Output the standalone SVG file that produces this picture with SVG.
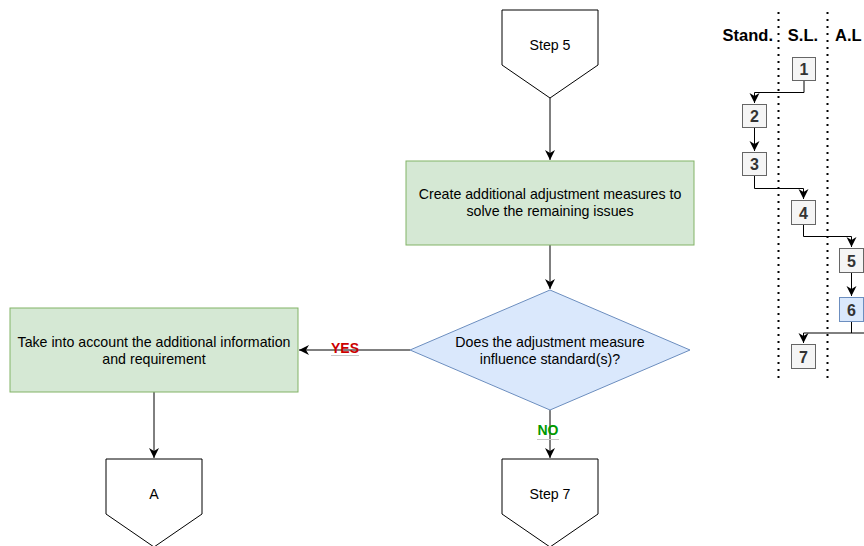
<svg xmlns="http://www.w3.org/2000/svg" width="864" height="546" viewBox="0 0 864 546">
  <style>
    text { font-family: "Liberation Sans", Arial, sans-serif; }
    .lbl { font-size: 14.2px; fill: #000; text-anchor: middle; }
    .green { fill: #d5e8d4; stroke: #82b366; stroke-width: 1; }
    .blue { fill: #dae8fc; stroke: #6c8ebf; stroke-width: 1; }
    .gray { fill: #f5f5f5; stroke: #666666; stroke-width: 1; }
    .step { fill: #ffffff; stroke: #000000; stroke-width: 1; }
    .edge { fill: none; stroke: #000000; stroke-width: 1; }
    .num { font-size: 16px; font-weight: bold; fill: #333333; text-anchor: middle; }
    .head { font-size: 16.5px; font-weight: bold; fill: #000; }
    .lane { stroke: #000; stroke-width: 2; stroke-dasharray: 2 5; fill: none; }
  </style>
  <defs>
    <marker id="arrow" markerUnits="userSpaceOnUse" markerWidth="12" markerHeight="12" refX="10" refY="5" orient="auto">
      <path d="M0,0 L10,5 L0,10 L3,5 z" fill="#000"/>
    </marker>
  </defs>

  <rect width="864" height="546" fill="#ffffff"/>

  <!-- swimlane separators and headers -->
  <g id="lanes">
    <line class="lane" x1="778.5" y1="12" x2="778.5" y2="382"/>
    <line class="lane" x1="827.5" y1="12" x2="827.5" y2="382"/>
    <text class="head" x="773" y="41" text-anchor="end">Stand.</text>
    <text class="head" x="803" y="41" text-anchor="middle">S.L.</text>
    <text class="head" x="835" y="41">A.L</text>
  </g>

  <!-- connectors -->
  <g id="connectors">
    <path class="edge" d="M550,98 V160" marker-end="url(#arrow)"/>
    <path class="edge" d="M550,245 V289" marker-end="url(#arrow)"/>
    <path class="edge" d="M550,410 V458" marker-end="url(#arrow)"/>
    <path class="edge" d="M410,350 H299" marker-end="url(#arrow)"/>
    <path class="edge" d="M154,392 V458" marker-end="url(#arrow)"/>

    <path class="edge" d="M804,81 V92.5 H754.5 V103" marker-end="url(#arrow)"/>
    <path class="edge" d="M754.5,128 V151" marker-end="url(#arrow)"/>
    <path class="edge" d="M754.5,176 V188.5 H803.5 V199" marker-end="url(#arrow)"/>
    <path class="edge" d="M803.5,225 V236.5 H851.5 V247" marker-end="url(#arrow)"/>
    <path class="edge" d="M851.5,273 V296" marker-end="url(#arrow)"/>
    <path class="edge" d="M851.5,322 V333"/>
    <path class="edge" d="M864,333 H803.5 V343" stroke-width="2" marker-end="url(#arrow)"/>

    <!-- edge labels -->
    <line x1="331" y1="355.5" x2="359" y2="355.5" stroke="#c8c8c8" stroke-width="1"/>
    <text x="345" y="353" font-size="14" font-weight="bold" fill="#cc0000" text-anchor="middle">YES</text>
    <line x1="537" y1="439.5" x2="559" y2="439.5" stroke="#c8c8c8" stroke-width="1"/>
    <text x="548" y="435" font-size="14" font-weight="bold" fill="#009900" text-anchor="middle">NO</text>
  </g>

  <g id="step5">
    <path class="step" d="M502,10 H598 V65 L550,98 L502,65 Z"/>
    <text class="lbl" x="550" y="50">Step 5</text>
  </g>

  <g id="create-measures">
    <rect class="green" x="406" y="161" width="288" height="84"/>
    <text class="lbl" x="550" y="199">Create additional adjustment measures to</text>
    <text class="lbl" x="550" y="216">solve the remaining issues</text>
  </g>

  <g id="influence-decision">
    <path class="blue" d="M550,290 L690,350 L550,410 L410,350 Z"/>
    <text class="lbl" x="550" y="347">Does the adjustment measure</text>
    <text class="lbl" x="550" y="364">influence standard(s)?</text>
  </g>

  <g id="take-into-account">
    <rect class="green" x="10" y="308" width="288" height="84"/>
    <text class="lbl" x="154" y="347">Take into account the additional information</text>
    <text class="lbl" x="154" y="364">and requirement</text>
  </g>

  <g id="offpage-a">
    <path class="step" d="M106,459 H202 V514 L154,547 L106,514 Z"/>
    <text class="lbl" x="154" y="499">A</text>
  </g>

  <g id="step7">
    <path class="step" d="M502,459 H598 V514 L550,547 L502,514 Z"/>
    <text class="lbl" x="550" y="499">Step 7</text>
  </g>

  <!-- numbered steps across the lanes -->
  <g id="n1"><rect class="gray" x="792.5" y="57.5" width="23" height="23"/><text class="num" x="804" y="75">1</text></g>
  <g id="n2"><rect class="gray" x="742.5" y="104.5" width="24" height="23"/><text class="num" x="754.5" y="122">2</text></g>
  <g id="n3"><rect class="gray" x="742.5" y="152.5" width="24" height="23"/><text class="num" x="754.5" y="170">3</text></g>
  <g id="n4"><rect class="gray" x="791.5" y="200.5" width="24" height="24"/><text class="num" x="803.5" y="218.5">4</text></g>
  <g id="n5"><rect class="gray" x="839.5" y="248.5" width="24" height="24"/><text class="num" x="851.5" y="266.5">5</text></g>
  <g id="n6"><rect class="blue" x="839.5" y="297.5" width="24" height="24"/><text class="num" x="851.5" y="315.5" fill="#000">6</text></g>
  <g id="n7"><rect class="gray" x="791.5" y="344.5" width="24" height="24"/><text class="num" x="803.5" y="362.5">7</text></g>
</svg>
